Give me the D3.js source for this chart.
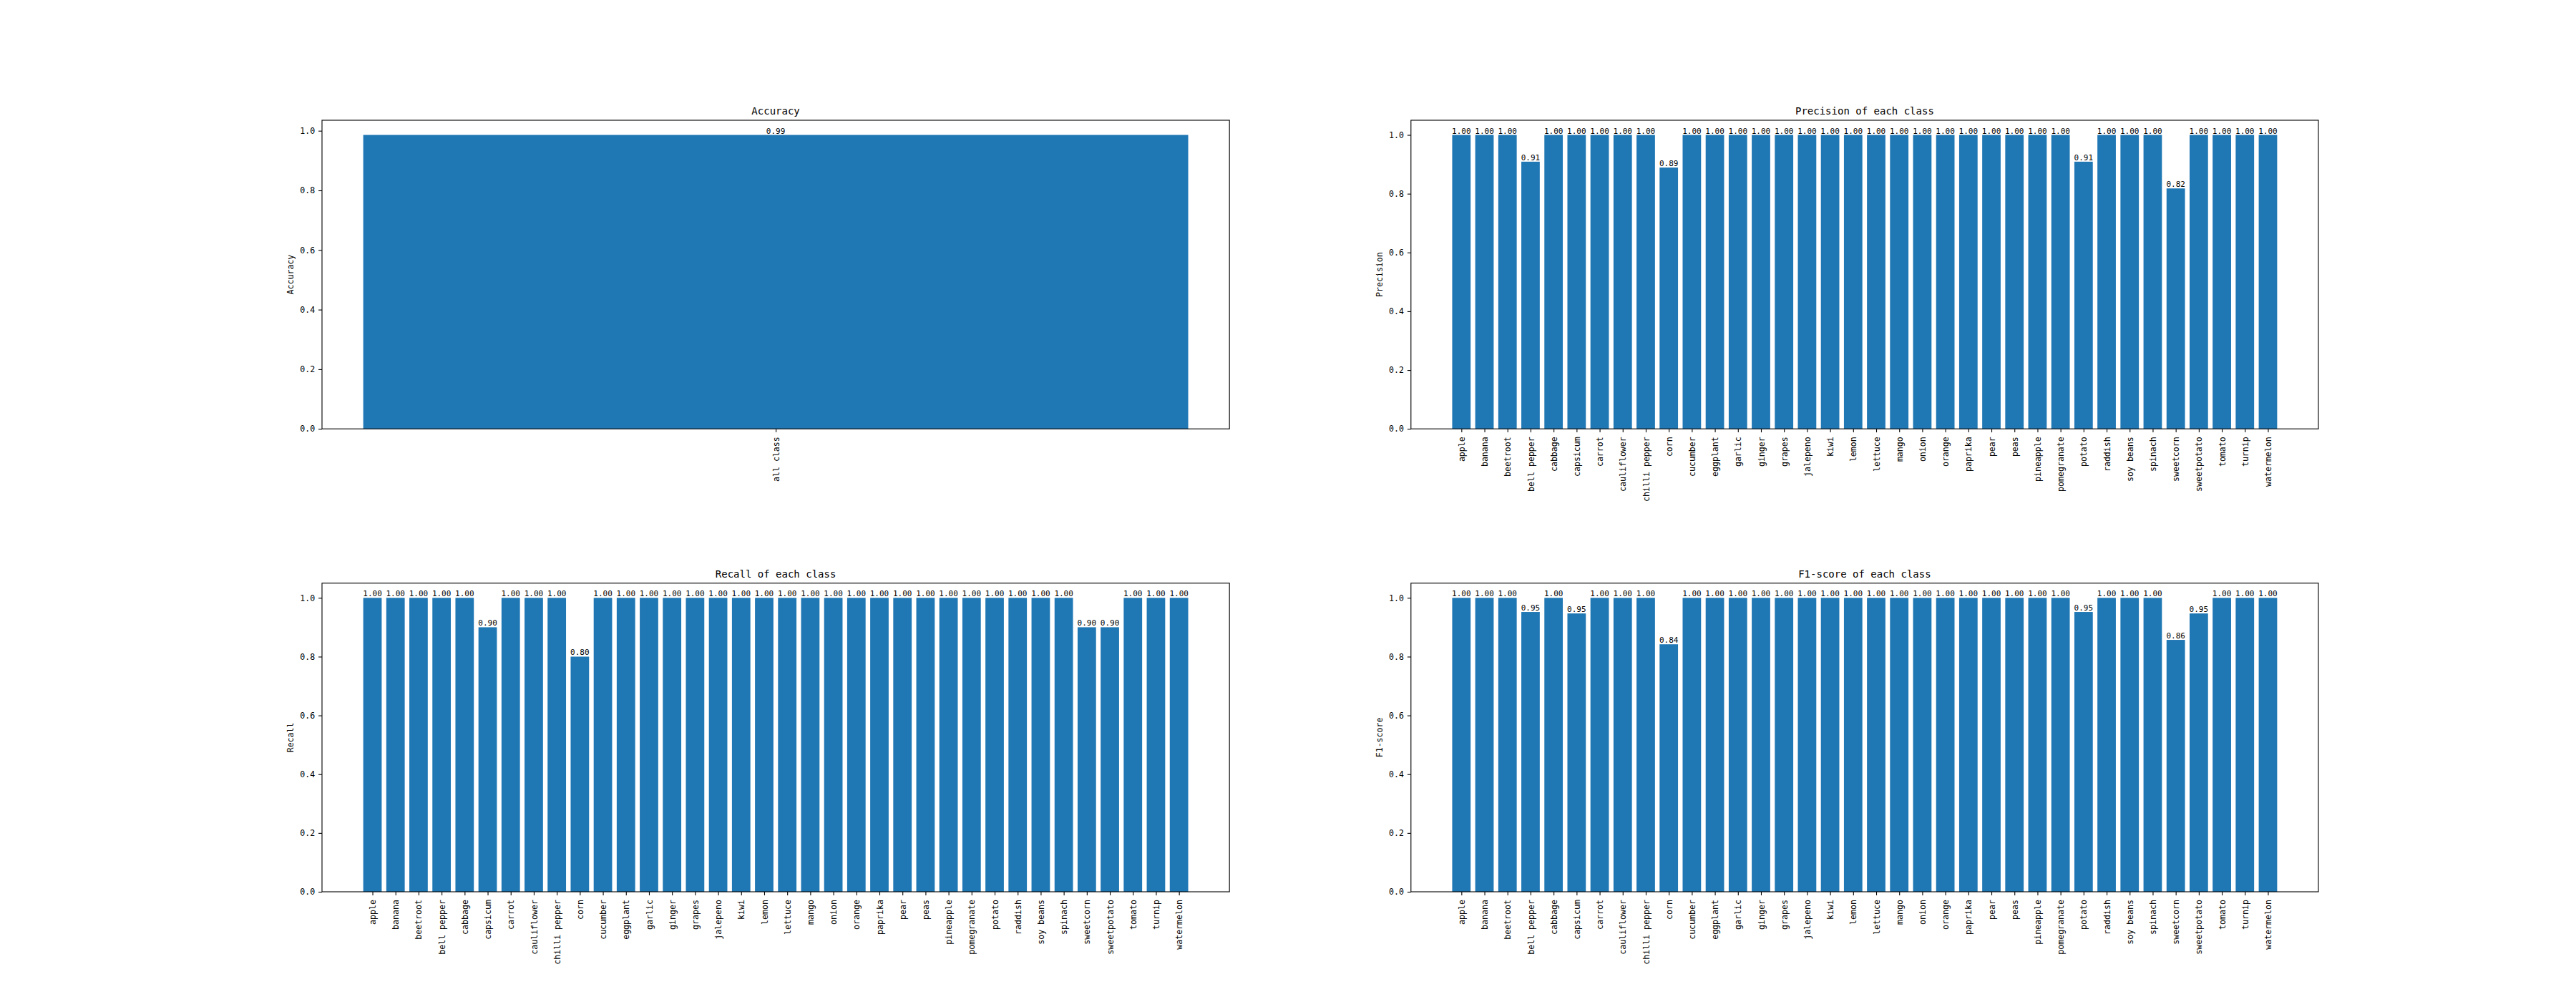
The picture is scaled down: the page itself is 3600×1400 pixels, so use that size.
<!DOCTYPE html>
<html>
<head>
<meta charset="utf-8">
<script src="https://cdn.jsdelivr.net/npm/d3@7"></script>
<style>
  body { margin: 0; background: #fff; }
  text { font-family: "DejaVu Sans Mono", "Liberation Mono", monospace; fill: #000; }
  .tick text { font-size: 11.6px; }
  .tick line, .domain { stroke: #000; stroke-width: 1.1px; }
</style>
</head>
<body>
<div id="chart"></div>
<script>
// class names on the x axis
var classes = ["apple","banana","beetroot","bell pepper","cabbage","capsicum","carrot",
  "cauliflower","chilli pepper","corn","cucumber","eggplant","garlic","ginger","grapes",
  "jalepeno","kiwi","lemon","lettuce","mango","onion","orange","paprika","pear","peas",
  "pineapple","pomegranate","potato","raddish","soy beans","spinach","sweetcorn",
  "sweetpotato","tomato","turnip","watermelon"];

// overall accuracy
var accuracyLabels = ["all class"];
var accuracyValues = [0.986];

// per class scores
var precisionValues = [1.00,1.00,1.00,0.909,1.00,1.00,1.00,1.00,1.00,0.889,1.00,1.00,1.00,1.00,1.00,
  1.00,1.00,1.00,1.00,1.00,1.00,1.00,1.00,1.00,1.00,1.00,1.00,0.909,1.00,1.00,1.00,0.818,
  1.00,1.00,1.00,1.00];
var recallValues = [1.00,1.00,1.00,1.00,1.00,0.90,1.00,1.00,1.00,0.80,1.00,1.00,1.00,1.00,1.00,
  1.00,1.00,1.00,1.00,1.00,1.00,1.00,1.00,1.00,1.00,1.00,1.00,1.00,1.00,1.00,1.00,0.90,
  0.90,1.00,1.00,1.00];
var f1Values = [1.00,1.00,1.00,0.952,1.00,0.947,1.00,1.00,1.00,0.842,1.00,1.00,1.00,1.00,1.00,
  1.00,1.00,1.00,1.00,1.00,1.00,1.00,1.00,1.00,1.00,1.00,1.00,0.952,1.00,1.00,1.00,0.857,
  0.947,1.00,1.00,1.00];

var yTicks = [0, 0.2, 0.4, 0.6, 0.8, 1.0];

// figure layout (matplotlib 2x2 grid, hspace 0.5)
var W = 3600, H = 1400;
var figLeft = 450, figRight = 3240, figTop = 168, figBottom = 1246;
var axW = (figRight - figLeft) / 2.2, axH = (figBottom - figTop) / 2.5;

var svg = d3.select("#chart").append("svg")
  .attr("width", W)
  .attr("height", H)
  .style("background", "#fff");

function drawPanel(col, row, labels, values, title, ylabel) {
  var x0 = figLeft + col * axW * 1.2;
  var y0 = figTop + row * axH * 1.5;
  var n = labels.length;
  var span = n - 0.2, pad = 0.05 * span;

  var x = d3.scaleLinear()
    .domain([-0.4 - pad, n - 0.6 + pad])
    .range([0, axW]);
  var y = d3.scaleLinear()
    .domain([0, d3.max(values) * 1.05])
    .range([axH, 0]);

  var g = svg.append("g")
    .attr("transform", "translate(" + x0 + "," + y0 + ")");

  // bars
  g.selectAll("rect.bar")
    .data(values)
    .enter().append("rect")
    .attr("class", "bar")
    .attr("x", function(d, i) { return x(i - 0.4); })
    .attr("width", function(d, i) { return x(i + 0.4) - x(i - 0.4); })
    .attr("y", function(d) { return y(d); })
    .attr("height", function(d) { return axH - y(d); })
    .attr("fill", "#1f77b4");

  // value labels on top of bars
  g.selectAll("text.val")
    .data(values)
    .enter().append("text")
    .attr("class", "val")
    .attr("x", function(d, i) { return x(i); })
    .attr("y", function(d) { return y(d) - 2; })
    .attr("text-anchor", "middle")
    .style("font-size", "11px")
    .text(function(d) { return d3.format(".2f")(d); });

  // axes
  var xAxis = g.append("g")
    .attr("transform", "translate(0," + axH + ")")
    .call(d3.axisBottom(x)
      .tickValues(d3.range(n))
      .tickFormat(function(i) { return labels[i]; })
      .tickSize(4.9)
      .tickSizeOuter(0));
  xAxis.select(".domain").remove();
  xAxis.selectAll(".tick text")
    .attr("transform", "rotate(-90)")
    .attr("x", -11)
    .attr("y", 0)
    .attr("dy", "0.35em")
    .attr("text-anchor", "end");

  var yAxis = g.append("g")
    .call(d3.axisLeft(y)
      .tickValues(yTicks)
      .tickFormat(d3.format(".1f"))
      .tickSize(4.9)
      .tickPadding(4.9)
      .tickSizeOuter(0));
  yAxis.select(".domain").remove();

  // frame
  g.append("rect")
    .attr("width", axW)
    .attr("height", axH)
    .attr("fill", "none")
    .attr("stroke", "#000")
    .attr("stroke-width", 1.1);

  // title and y label
  g.append("text")
    .attr("x", axW / 2)
    .attr("y", -8.3)
    .attr("text-anchor", "middle")
    .style("font-size", "14px")
    .text(title);

  g.append("text")
    .attr("transform", "translate(-40," + (axH / 2) + ") rotate(-90)")
    .attr("text-anchor", "middle")
    .style("font-size", "11.6px")
    .text(ylabel);
}

drawPanel(0, 0, accuracyLabels, accuracyValues, "Accuracy", "Accuracy");
drawPanel(1, 0, classes, precisionValues, "Precision of each class", "Precision");
drawPanel(0, 1, classes, recallValues, "Recall of each class", "Recall");
drawPanel(1, 1, classes, f1Values, "F1-score of each class", "F1-score");
</script>
</body>
</html>
